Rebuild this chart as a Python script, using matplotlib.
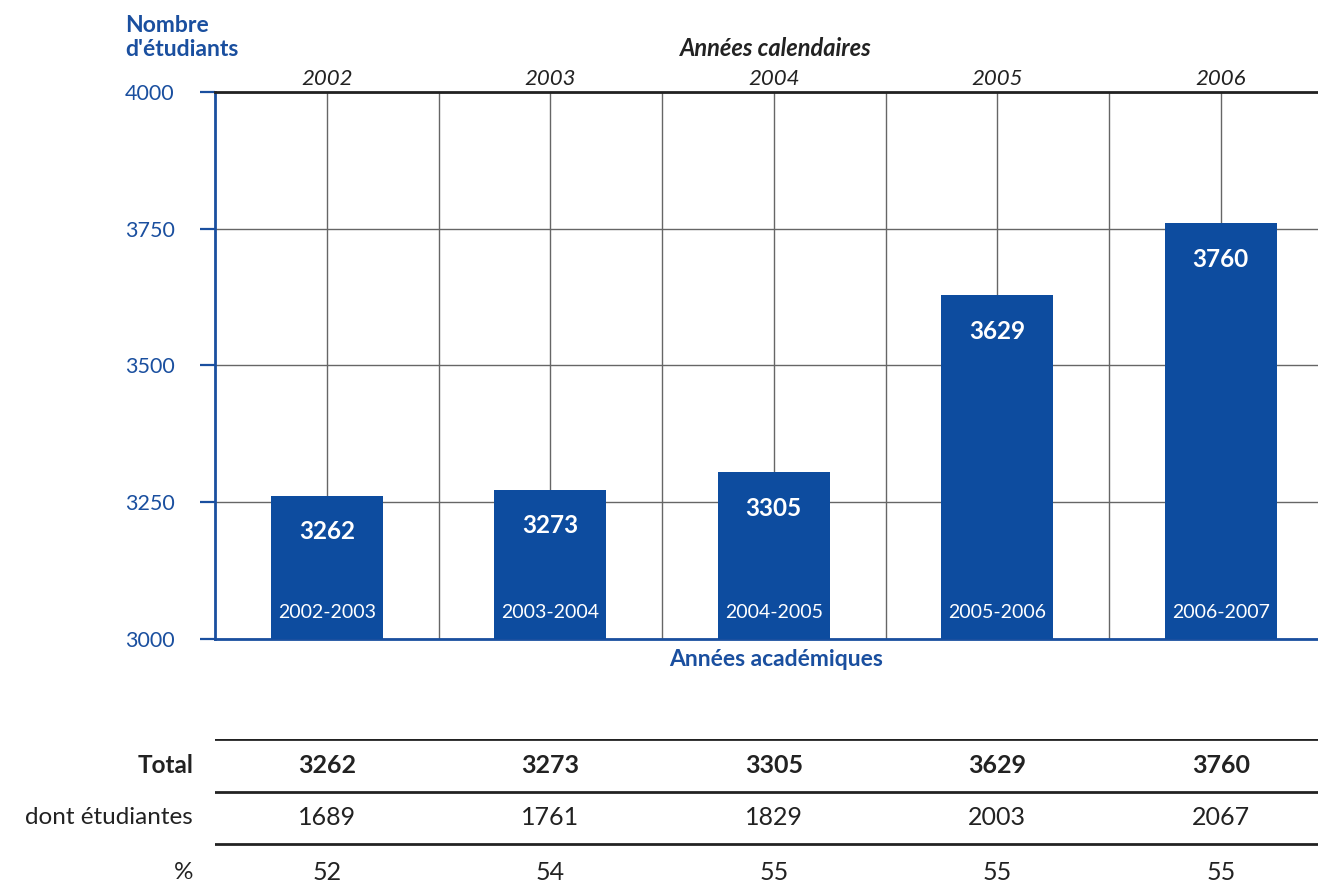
import matplotlib.pyplot as plt
import numpy as np

plt.rcParams['font.family'] = ['Lato', 'DejaVu Sans']

# data
cal_years = ["2002", "2003", "2004", "2005", "2006"]
acad_years = ["2002-2003", "2003-2004", "2004-2005", "2005-2006", "2006-2007"]
totals = [3262, 3273, 3305, 3629, 3760]
women = [1689, 1761, 1829, 2003, 2067]
pct = [52, 54, 55, 55, 55]
row_labels = ["Total", "dont étudiantes", "%"]
y_ticks = [3000, 3250, 3500, 3750, 4000]

BLUE = '#0d4c9f'
TXT_BLUE = '#1a4f9f'
DARK = '#222222'

W, H = 1318, 886
fig = plt.figure(figsize=(W / 100, H / 100), dpi=100)

def px_axes(x0, y0, x1, y1):
    # pixel box (top-left origin) -> figure fraction
    return fig.add_axes([x0 / W, 1 - y1 / H, (x1 - x0) / W, (y1 - y0) / H])

ax = px_axes(215, 92, 1318, 639)
x = np.arange(len(totals))
xlim = (-0.5, (1318 - 215) / 223.5 - 0.5)

ax.bar(x, [t - 3000 for t in totals], bottom=3000, width=0.5, color=BLUE, zorder=3)
ax.set_xlim(*xlim)
ax.set_ylim(3000, 4000)

# grid
ax.set_xticks(x)
ax.set_xticks(x[:-1] + 0.5, minor=True)
ax.set_yticks(y_ticks)
ax.grid(True, which='both', color='#666666', lw=1, zorder=0)
ax.set_axisbelow(True)

ax.xaxis.tick_top()
ax.set_xticklabels(cal_years, fontsize=16, style='italic', color=DARK)
ax.tick_params(axis='x', which='both', length=0, pad=2)
ax.set_yticklabels([str(v) for v in y_ticks], fontsize=15.5, color=TXT_BLUE)
ax.tick_params(axis='y', length=11, width=1.6, color=TXT_BLUE, pad=18)

for s in ['left', 'bottom']:
    ax.spines[s].set_color(TXT_BLUE)
    ax.spines[s].set_linewidth(2)
ax.spines['top'].set_color(DARK)
ax.spines['top'].set_linewidth(2)
ax.spines['right'].set_visible(False)

for xi, t, a in zip(x, totals, acad_years):
    ax.annotate(str(t), (xi, t), xytext=(0, -26), textcoords='offset points',
                ha='center', va='center', color='white', fontsize=17.5,
                fontweight='bold', zorder=4)
    ax.annotate(a, (xi, 3000), xytext=(0, 19), textcoords='offset points',
                ha='center', va='center', color='white', fontsize=14, zorder=4)

fig.text(125 / W, 1 - 15 / H, "Nombre\nd'étudiants", ha='left', va='top',
         fontsize=16.5, fontweight='bold', color=TXT_BLUE, linespacing=1.2)
fig.text(776 / W, 1 - 48 / H, "Années calendaires", ha='center', va='center',
         fontsize=17, fontweight='bold', style='italic', color=DARK)
fig.text(776 / W, 1 - 660 / H, "Années académiques", ha='center', va='center',
         fontsize=16.5, fontweight='bold', color=TXT_BLUE)

# table under the chart
tab = px_axes(215, 739, 1318, 886)
tab.set_xlim(*xlim)
tab.set_ylim(2.8, 0)
tab.axis('off')
for yl in [0, 1, 2]:
    tab.axhline(yl, color=DARK, lw=2)
rows = [totals, women, pct]
for r, (lab, vals) in enumerate(zip(row_labels, rows)):
    yc = r + 0.5 + (0.05 if r == 2 else 0)
    bold = 'bold' if r == 0 else 'normal'
    tab.text(xlim[0] - 22 / 223.5, yc, lab, ha='right', va='center', fontsize=17.5,
             fontweight=bold, color=DARK, clip_on=False)
    for xi, v in zip(x, vals):
        tab.text(xi, yc, str(v), ha='center', va='center', fontsize=18,
                 fontweight=bold, color=DARK)

fig.savefig('out.png', dpi=100)
